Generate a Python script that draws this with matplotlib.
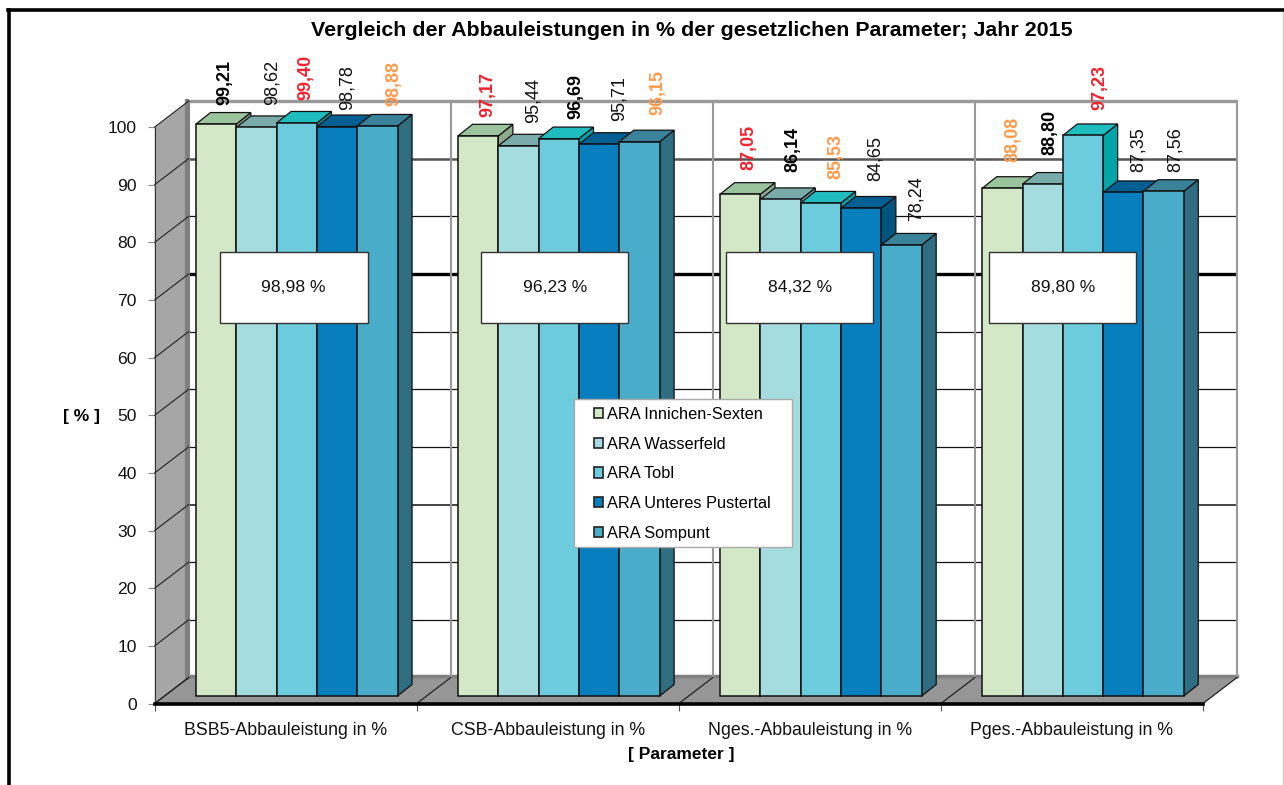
import matplotlib
matplotlib.use('Agg')
from matplotlib import pyplot as plt
from matplotlib.lines import Line2D
from matplotlib.patches import Patch, Polygon, Rectangle

plt.rcParams['font.family'] = ['Liberation Sans', 'DejaVu Sans']

parameters = ['BSB5-Abbauleistung in %', 'CSB-Abbauleistung in %',
              'Nges.-Abbauleistung in %', 'Pges.-Abbauleistung in %']
plants = ['ARA Innichen-Sexten', 'ARA Wasserfeld', 'ARA Tobl',
          'ARA Unteres Pustertal', 'ARA Sompunt']

innichen = [99.21, 97.17, 87.05, 88.08]
wasserfeld = [98.62, 95.44, 86.14, 88.80]
tobl = [99.40, 96.69, 85.53, 97.23]
pustertal = [98.78, 95.71, 84.65, 87.35]
sompunt = [98.88, 96.15, 78.24, 87.56]
series = [innichen, wasserfeld, tobl, pustertal, sompunt]

averages = ['98,98 %', '96,23 %', '84,32 %', '89,80 %']

front_col = ['#D2E8C6', '#A5DCDF', '#6CCBDC', '#077EBD', '#49ACC8']
top_col = ['#9AC49B', '#7AABAB', '#20BDBF', '#005F92', '#3A8299']
side_col = ['#8FA98C', '#6F9C9C', '#00A5A8', '#00557F', '#2F6D80']

# label colour per group, per plant: k = normal, b = bold black, r = red, o = orange
label_style = [['b', 'k', 'r', 'k', 'o'],
               ['r', 'k', 'b', 'k', 'o'],
               ['r', 'b', 'o', 'k', 'k'],
               ['o', 'b', 'r', 'k', 'k']]
# hand placed labels in the original, pixels from the bar top centre
label_dx = [[9, 16, 9, 10, 16], [10, 15, 17, 20, 18], [9, 12, 15, 14, 15], [10, 7, 17, 15, 12]]
label_dy = [[19, 22, 23, 17, 20], [19, 23, 20, 23, 27], [24, 27, 24, 27, 24], [26, 29, 25, 20, 19]]

W, H = 1284, 785
fig = plt.figure(figsize=(W / 100, H / 100), dpi=100)

# front plane of the fake 3D chart
x0, x1, y0, y100 = 154.7, 1203.0, 703.5, 127.0
ax = fig.add_axes([x0 / W, 1 - y0 / H, (x1 - x0) / W, (y0 - y100) / H])
ax.set_xlim(0, 4)
ax.set_ylim(0, 100)
ax.patch.set_visible(False)

px = 4 / (x1 - x0)
py = 100 / (y0 - y100)
wall_dx, wall_dy = 34 * px, 26 * py
bar_dx, bar_dy = 14.5 * px, 11.5 * py
lift = 7.5 * py
bar_w = 0.1538
bar_start = 0.1576

# walls and floor
ax.add_patch(Polygon([(0, 0), (wall_dx, wall_dy), (wall_dx, 100 + wall_dy), (0, 100)],
                     fc='#A6A6A6', ec='none', clip_on=False, zorder=1))
ax.add_patch(Polygon([(0, 0), (4, 0), (4 + wall_dx, wall_dy), (wall_dx, wall_dy)],
                     fc='#969696', ec='none', clip_on=False, zorder=1))
ax.plot([wall_dx - 2 * px] * 2, [wall_dy, 100 + wall_dy], color='#808080', lw=3, clip_on=False, zorder=1.1)
ax.plot([wall_dx, 4 + wall_dx], [wall_dy + 0.3] * 2, color='#808080', lw=2.5, clip_on=False, zorder=1.1)
ax.plot([0, 0], [0, 100], color='#333333', lw=0.8, clip_on=False, zorder=1.2)

# back wall grid
grid_styles = {100: ('#999999', 2.4), 90: ('#555555', 1.8), 70: ('#000000', 2.4), 30: ('#222222', 1.2)}
for v in range(10, 101, 10):
    c, lw = grid_styles.get(v, ('#111111', 0.9))
    ax.plot([wall_dx, 4 + wall_dx], [v + wall_dy] * 2, color=c, lw=lw, solid_capstyle='butt',
            clip_on=False, zorder=1.5)
for v in range(0, 101, 10):
    ax.plot([0, wall_dx], [v, v + wall_dy], color='#222222', lw=0.8, clip_on=False, zorder=1.6)
for i in range(5):
    c = '#999999' if i else '#808080'
    ax.plot([i + wall_dx] * 2, [wall_dy, 100 + wall_dy], color=c, lw=1.5, clip_on=False, zorder=1.5)
    ax.plot([i, i + wall_dx], [0, wall_dy], color='#222222', lw=0.9, clip_on=False, zorder=1.6)

# bars
z = 3
handles = []
for j in range(5):
    for i in range(4):
        left = i + bar_start + j * bar_w
        val = series[j][i]
        top = val + lift
        ax.add_patch(Polygon([(left + bar_w, lift), (left + bar_w + bar_dx, lift + bar_dy),
                              (left + bar_w + bar_dx, top + bar_dy), (left + bar_w, top)],
                             fc=side_col[j], ec='#111111', lw=0.9, clip_on=False, zorder=z))
        ax.add_patch(Polygon([(left, top), (left + bar_dx, top + bar_dy),
                              (left + bar_w + bar_dx, top + bar_dy), (left + bar_w, top)],
                             fc=top_col[j], ec='#111111', lw=0.9, clip_on=False, zorder=z))
    ax.bar([i + bar_start + j * bar_w for i in range(4)], series[j], bar_w, bottom=lift, align='edge',
           color=front_col[j], edgecolor='#111111', linewidth=1.1, clip_on=False, zorder=z + 0.1)
    handles.append(Patch(fc=front_col[j], ec='#222222', lw=1.2, label=plants[j]))
    z += 1

# data labels
for i in range(4):
    for j in range(5):
        style = label_style[i][j]
        col = {'k': '#111111', 'b': '#000000', 'r': '#F2222E', 'o': '#FF9A4A'}[style]
        weight = 'normal' if style == 'k' else 'bold'
        ax.annotate(f'{series[j][i]:.2f}'.replace('.', ','),
                    xy=(i + bar_start + (j + 0.5) * bar_w, series[j][i] + lift),
                    xytext=(label_dx[i][j] * 0.72, label_dy[i][j] * 0.72), textcoords='offset points',
                    rotation=90, ha='center', va='bottom', fontsize=13, color=col,
                    fontweight=weight, annotation_clip=False, zorder=20)

# boxes with the yearly average
box_left = [220, 481, 726, 989]
for i in range(4):
    l = (box_left[i] - x0) * px
    w = 147.5 * px
    b = (y0 - 322.5) * py
    h = 70.5 * py
    ax.add_patch(Rectangle((l, b), w, h, fc='white', ec='#333333', lw=1.0, clip_on=False, zorder=21))
    ax.text(l + w / 2, b + h / 2, averages[i], ha='center', va='center', fontsize=12.6,
            color='#111111', zorder=22)

# legend
ax.add_patch(Rectangle(((574 - x0) * px, (y0 - 547) * py), 218 * px, 148 * py, fc='white', ec='#AAAAAA',
                       lw=1.0, clip_on=False, zorder=23))
leg = ax.legend(handles=handles, loc='upper left', bbox_to_anchor=(590.5 / W, 1 - 403.5 / H),
                bbox_transform=fig.transFigure, frameon=False, fontsize=11.8, handlelength=0.58,
                handleheight=0.58, handletextpad=0.22, labelspacing=0.9, borderpad=0.2, borderaxespad=0)
leg.set_zorder(24)

# axes furniture
for s in ['top', 'left', 'right']:
    ax.spines[s].set_visible(False)
ax.spines['bottom'].set_linewidth(2.6)
ax.spines['bottom'].set_color('black')
ax.spines['bottom'].set_zorder(2)
ax.set_yticks(range(0, 101, 10))
ax.set_xticks(range(5))
ax.set_xticklabels([])
ax.set_xticks([i + 0.5 for i in range(4)], parameters, minor=True)
ax.tick_params(axis='x', which='minor', length=0, labelsize=12.8, pad=13, labelcolor='#111111')
ax.tick_params(axis='x', which='major', length=5, width=0.8, color='#555555')
ax.tick_params(axis='y', length=5, width=0.8, color='#888888', labelsize=12.6, pad=8, labelcolor='#111111')

fig.text(692 / W, 1 - 31 / H, 'Vergleich der Abbauleistungen in % der gesetzlichen Parameter; Jahr 2015',
         ha='center', va='center', fontsize=15.4, fontweight='bold')
fig.text(82 / W, 1 - 417 / H, '[ % ]', ha='center', va='center', fontsize=12.5, fontweight='bold')
fig.text(681 / W, 1 - 754 / H, '[ Parameter ]', ha='center', va='center', fontsize=12.5, fontweight='bold')

# chart frame
fig.add_artist(Line2D([9 / W, 9 / W], [0, 1 - 10 / H], color='black', lw=2.6))
fig.add_artist(Line2D([8 / W, 1], [1 - 10 / H, 1 - 10 / H], color='black', lw=2.6))
fig.add_artist(Line2D([1283 / W, 1283 / W], [0, 1 - 12 / H], color='#CCCCCC', lw=1))

fig.savefig('out.png', dpi=100)
